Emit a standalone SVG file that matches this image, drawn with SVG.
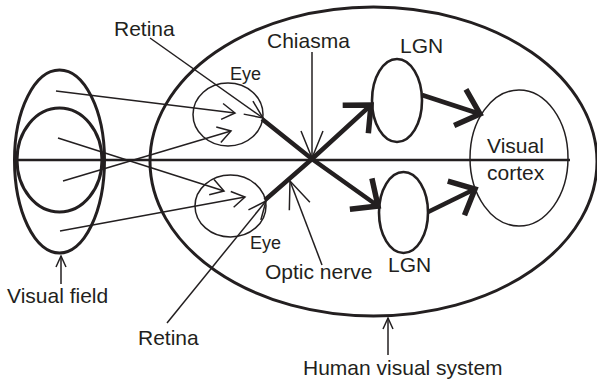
<svg xmlns="http://www.w3.org/2000/svg" width="597" height="382" viewBox="0 0 597 382">
<style>
text{font-family:"Liberation Sans",Arial,Helvetica,sans-serif;font-size:21px;fill:#231f20}
.eye-t{font-size:18px}
.thick{fill:none;stroke:#231f20;stroke-width:3}
.med{fill:none;stroke:#231f20;stroke-width:2.6}
.thin{fill:none;stroke:#231f20;stroke-width:1.5}
.ray{fill:none;stroke:#231f20;stroke-width:1.5}
.nerve{fill:none;stroke:#231f20;stroke-width:4.5}
</style>
<defs>
<marker id="mRay" markerUnits="userSpaceOnUse" orient="auto" markerWidth="40" markerHeight="40" refX="0" refY="0" viewBox="-20 -20 40 40" overflow="visible">
<path d="M-13,-8 L0,0 L-13,8" fill="none" stroke="#231f20" stroke-width="1.5"/>
</marker>
<marker id="mRet" markerUnits="userSpaceOnUse" orient="auto" markerWidth="40" markerHeight="40" refX="0" refY="0" viewBox="-20 -20 40 40" overflow="visible">
<path d="M-18,-8 L0,0 L-18,8" fill="none" stroke="#231f20" stroke-width="1.5"/>
</marker>
<marker id="mLead" markerUnits="userSpaceOnUse" orient="auto" markerWidth="60" markerHeight="60" refX="0" refY="0" viewBox="-30 -30 60 60" overflow="visible">
<path d="M-27,-11 L0,0 L-27,11" fill="none" stroke="#231f20" stroke-width="1.5"/>
</marker>
<marker id="mSmall" markerUnits="userSpaceOnUse" orient="auto" markerWidth="30" markerHeight="30" refX="0" refY="0" viewBox="-15 -15 30 30" overflow="visible">
<path d="M-11,-5 L0,0 L-11,5" fill="none" stroke="#231f20" stroke-width="1.5"/>
</marker>
<marker id="mThick" markerUnits="userSpaceOnUse" orient="auto" markerWidth="60" markerHeight="60" refX="0" refY="0" viewBox="-30 -30 60 60" overflow="visible">
<path d="M-21,-19 L0,0 L-21,19" fill="none" stroke="#231f20" stroke-width="5.5" stroke-linejoin="miter"/>
</marker>
</defs>
<rect width="597" height="382" fill="#ffffff"/>

<g id="human-visual-system">
<ellipse class="thick" cx="373.5" cy="161.5" rx="223.5" ry="154.5"/>
</g>

<g id="midline">
<line x1="15" y1="160" x2="570" y2="160" stroke="#231f20" stroke-width="2.6"/>
</g>

<g id="visual-field">
<path class="thick" d="M14.5,160 A45,90 0 0 1 104.5,160 A45,93 0 0 1 14.5,160 Z"/>
<ellipse class="thick" cx="59.5" cy="160" rx="42.5" ry="52"/>
</g>

<g id="eye-upper">
<ellipse class="thin" cx="228" cy="114.5" rx="35" ry="31.5"/>
</g>
<g id="eye-lower">
<ellipse class="thin" cx="230.5" cy="206" rx="35.5" ry="31"/>
</g>

<g id="lgn-upper">
<ellipse class="med" cx="397" cy="100.5" rx="25" ry="41.5"/>
</g>
<g id="lgn-lower">
<ellipse class="med" cx="403.5" cy="212.5" rx="24.5" ry="40.5"/>
</g>

<g id="visual-cortex">
<ellipse class="thin" cx="519" cy="158" rx="49" ry="68"/>
</g>

<g id="connectors">
<line class="ray" x1="56" y1="91" x2="235" y2="113" marker-end="url(#mRay)"/>
<line class="ray" x1="63" y1="181" x2="231" y2="131" marker-end="url(#mRay)"/>
<line class="ray" x1="58" y1="138" x2="224" y2="191" marker-end="url(#mRay)"/>
<line class="ray" x1="60" y1="231" x2="245" y2="197" marker-end="url(#mRay)"/>

<line class="ray" x1="150" y1="38" x2="263" y2="118" marker-end="url(#mRet)"/>
<line class="ray" x1="167" y1="323" x2="266" y2="201" marker-end="url(#mRet)"/>

<line class="ray" x1="312" y1="52" x2="312" y2="158" marker-end="url(#mLead)"/>
<line class="ray" x1="322" y1="265" x2="290" y2="181" marker-end="url(#mLead)"/>

<line class="ray" x1="61" y1="284" x2="61" y2="256" marker-end="url(#mSmall)"/>
<line class="ray" x1="388" y1="355" x2="388" y2="318" marker-end="url(#mSmall)"/>

<path class="nerve" d="M262,119 L312,159 L378,206" marker-end="url(#mThick)"/>
<path class="nerve" d="M265,200 L312,159 L371,105" marker-end="url(#mThick)"/>
<line class="nerve" x1="422" y1="95" x2="480" y2="114" marker-end="url(#mThick)"/>
<line class="nerve" x1="428" y1="212" x2="475" y2="189" marker-end="url(#mThick)"/>
</g>

<g id="labels">
<text x="114" y="36">Retina</text>
<text x="267" y="48">Chiasma</text>
<text x="400" y="53">LGN</text>
<text class="eye-t" x="230" y="80">Eye</text>
<text x="487" y="153">Visual</text>
<text x="487" y="180">cortex</text>
<text class="eye-t" x="250" y="249">Eye</text>
<text x="388" y="272">LGN</text>
<text x="265" y="279">Optic nerve</text>
<text x="7" y="303">Visual field</text>
<text x="138" y="345">Retina</text>
<text x="303" y="375">Human visual system</text>
</g>
</svg>
